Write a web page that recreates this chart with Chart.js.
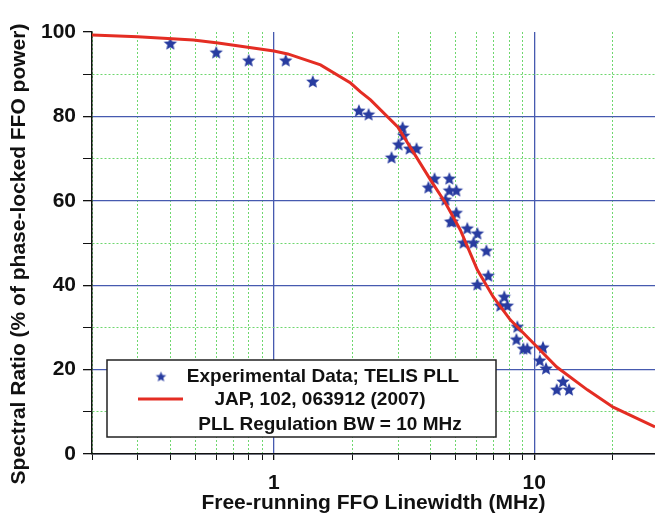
<!DOCTYPE html>
<html lang="en">

<head>
    <meta charset="UTF-8">
    <script src="https://cdn.jsdelivr.net/npm/chart.js"></script>
    <title>Spectral Ratio</title>
    <style>
        body { margin: 0; background: #fff; }
    </style>
</head>

<body>
    <div style="width: 655px; height: 524px;">
        <canvas id="myChart" width="655" height="524"></canvas>
    </div>
</body>
<script>
    // experimental points (MHz, %)
    var expX = [0.40, 0.60, 0.80, 1.11, 1.41, 2.12, 2.31, 2.83, 3.01, 3.12, 3.15, 3.32, 3.53,
        3.92, 4.14, 4.56, 4.72, 4.72, 5.02, 4.85, 4.77, 5.02, 5.53, 6.05, 5.35, 5.84, 6.55,
        6.66, 6.05, 7.67, 7.41, 7.88, 8.61, 8.54, 9.08, 9.40, 10.8, 10.5, 11.1, 12.9, 12.2, 13.6];
    var expY = [97.4, 95.3, 93.4, 93.4, 88.4, 81.5, 80.6, 70.4, 73.5, 77.5, 75.6, 72.5, 72.5,
        63.3, 65.4, 60.4, 65.4, 62.6, 62.6, 55.2, 55.2, 57.3, 53.6, 52.4, 50.2, 50.2, 48.3,
        42.4, 40.3, 37.4, 35.3, 35.3, 30.3, 27.3, 25.1, 25.1, 25.4, 22.3, 20.4, 17.3, 15.4, 15.4];

    // JAP 102, 063912 curve
    var fitX = [0.2, 0.30, 0.49, 0.61, 1.0, 1.13, 1.51, 1.97, 2.15, 2.35, 2.99, 4.0, 4.56,
        5.2, 6.05, 6.96, 8.09, 9.91, 12.2, 16.0, 20.1, 29.1];
    var fitY = [99.3, 98.9, 98.1, 97.4, 95.5, 94.8, 92.2, 87.9, 85.8, 83.9, 77.5, 64.9, 59.5,
        53.1, 43.6, 37.2, 31.8, 26.3, 20.6, 15.2, 11.1, 6.4];

    var xTicks = [0.2, 0.3, 0.4, 0.5, 0.6, 0.7, 0.8, 0.9, 1, 2, 3, 4, 5, 6, 7, 8, 9, 10, 20];
    var xLabels = [1, 10];

    var blue = 'rgb(40,60,160)';
    var gridBlue = 'rgb(70,90,175)';
    var gridGreen = 'rgb(110,215,110)';
    var red = 'rgb(228,45,35)';
    var font = 'Liberation Sans, Arial, sans-serif';

    function makeStar(r) {
        var c = document.createElement('canvas');
        c.width = Math.ceil(r * 2 + 2);
        c.height = Math.ceil(r * 2 + 2);
        var g = c.getContext('2d');
        g.fillStyle = blue;
        g.beginPath();
        for (var i = 0; i < 10; i++) {
            var rr = i % 2 == 0 ? r : r * 0.45;
            var a = -Math.PI / 2 + i * Math.PI / 5;
            g.lineTo(c.width / 2 + rr * Math.cos(a), c.height / 2 + 1 + rr * Math.sin(a));
        }
        g.closePath();
        g.fill();
        return c;
    }
    var star = makeStar(7);
    var smallStar = makeStar(5.5);

    var expData = expX.map((x, i) => ({ x: x, y: expY[i] }));
    var fitData = fitX.map((x, i) => ({ x: x, y: fitY[i] }));

    // boxed legend + y title (title sits a bit lower than the axis centre)
    var legendBox = {
        id: 'legendBox',
        afterDraw(chart) {
            var ctx = chart.ctx;
            ctx.save();
            ctx.fillStyle = '#fff';
            ctx.strokeStyle = '#222';
            ctx.lineWidth = 1.5;
            ctx.fillRect(107, 360, 389, 77);
            ctx.strokeRect(107, 360, 389, 77);
            ctx.drawImage(smallStar, 161 - smallStar.width / 2, 376 - smallStar.height / 2);
            ctx.strokeStyle = red;
            ctx.lineWidth = 3;
            ctx.beginPath();
            ctx.moveTo(138, 399);
            ctx.lineTo(183, 399);
            ctx.stroke();
            ctx.fillStyle = '#111';
            ctx.font = 'bold 19px ' + font;
            ctx.textAlign = 'center';
            ctx.textBaseline = 'middle';
            ctx.fillText('Experimental Data; TELIS PLL', 323, 377);
            ctx.fillText('JAP, 102, 063912 (2007)', 320, 400);
            ctx.fillText('PLL Regulation BW = 10 MHz', 330, 425);

            ctx.translate(19, 254);
            ctx.rotate(-Math.PI / 2);
            ctx.font = 'bold 21px ' + font;
            ctx.fillText('Spectral Ratio (% of phase-locked FFO power)', 0, 0);
            ctx.restore();
        }
    };

    var config = {
        type: 'scatter',
        data: {
            datasets: [{
                label: 'JAP, 102, 063912 (2007)',
                data: fitData,
                showLine: true,
                borderColor: red,
                borderWidth: 3,
                pointRadius: 0,
                tension: 0
            }, {
                label: 'Experimental Data; TELIS PLL',
                data: expData,
                pointStyle: star,
                pointRadius: 7
            }]
        },
        options: {
            responsive: false,
            animation: false,
            layout: { autoPadding: false, padding: { top: 32, left: 0, right: 0, bottom: 0 } },
            plugins: { legend: { display: false }, tooltip: { enabled: false } },
            scales: {
                x: {
                    type: 'logarithmic',
                    min: 0.2,
                    max: 29.1,
                    afterFit: s => { s.height = 70; },
                    afterBuildTicks: s => { s.ticks = xTicks.map(v => ({ value: v })); },
                    ticks: {
                        autoSkip: false,
                        maxRotation: 0,
                        padding: 11,
                        color: '#111',
                        font: { family: font, size: 21, weight: 'bold' },
                        callback: v => xLabels.includes(v) ? String(v) : ''
                    },
                    grid: {
                        color: c => xLabels.includes(c.tick && c.tick.value) ? gridBlue : gridGreen,
                        lineWidth: c => xLabels.includes(c.tick && c.tick.value) ? 1.3 : 1,
                        tickColor: '#111',
                        tickLength: 6
                    },
                    border: {
                        color: '#111',
                        width: 1.5,
                        dash: c => (c.tick && xLabels.includes(c.tick.value)) ? [] : [2, 2]
                    },
                    title: {
                        display: true,
                        text: 'Free-running FFO Linewidth (MHz)',
                        color: '#111',
                        font: { family: font, size: 21, weight: 'bold' },
                        padding: { top: 0, bottom: 8 }
                    }
                },
                y: {
                    min: 0,
                    max: 100,
                    afterFit: s => { s.width = 92; },
                    ticks: {
                        stepSize: 10,
                        padding: 7,
                        color: '#111',
                        font: { family: font, size: 21, weight: 'bold' },
                        callback: v => v % 20 == 0 ? String(v) : ''
                    },
                    grid: {
                        color: c => {
                            var v = c.tick ? c.tick.value : 0;
                            if (v == 100) return 'rgba(0,0,0,0)';
                            return v % 20 == 0 ? gridBlue : gridGreen;
                        },
                        lineWidth: c => (c.tick && c.tick.value % 20 == 0) ? 1.3 : 1,
                        tickColor: '#111',
                        tickLength: 9
                    },
                    border: {
                        color: '#111',
                        width: 1.5,
                        dash: c => (c.tick && c.tick.value % 20 == 0) ? [] : [2, 2]
                    }
                }
            }
        },
        plugins: [legendBox]
    };
    var myChart = new Chart(document.getElementById('myChart'), config);
</script>

</html>
